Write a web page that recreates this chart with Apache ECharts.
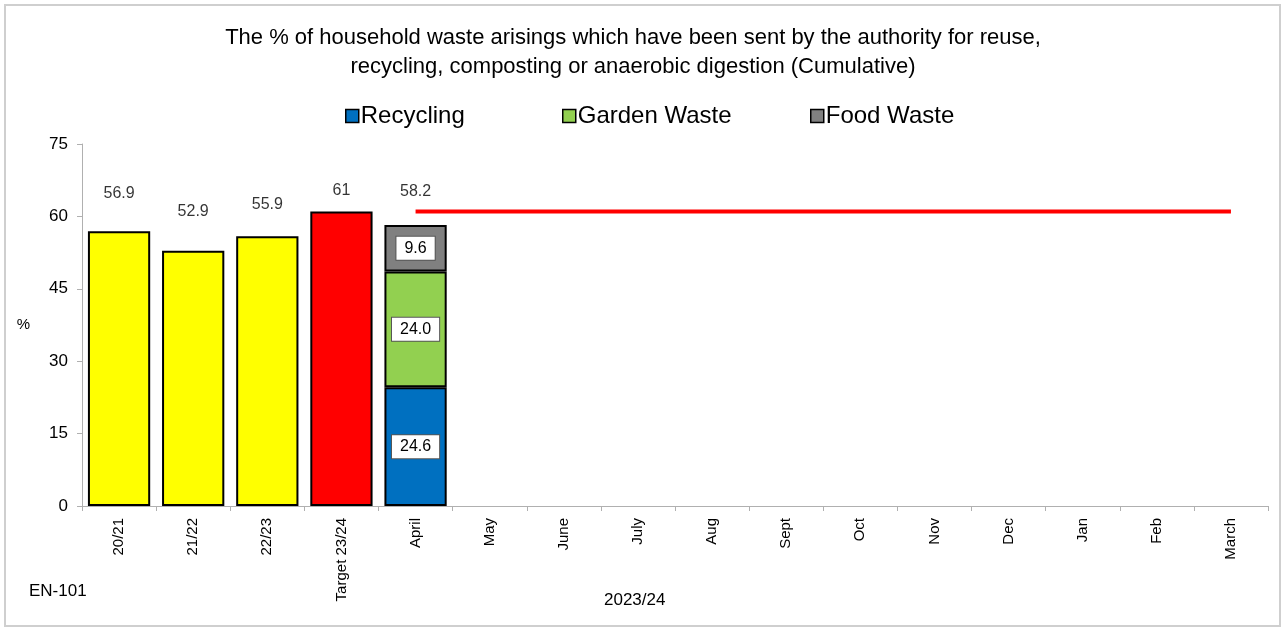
<!DOCTYPE html>
<html>
<head>
<meta charset="utf-8">
<script src="https://cdn.jsdelivr.net/npm/echarts@6/dist/echarts.min.js"></script>
<style>
  html, body { margin: 0; padding: 0; background: #fff; }
  #chart { width: 1282px; height: 628px; }
</style>
</head>
<body>
<div id="chart"></div>
<script>
// ---- data ----
const categories = ['20/21', '21/22', '22/23', 'Target 23/24', 'April', 'May', 'June', 'July', 'Aug', 'Sept', 'Oct', 'Nov', 'Dec', 'Jan', 'Feb', 'March'];
const annualValues = [56.9, 52.9, 55.9, null, null, null, null, null, null, null, null, null, null, null, null, null];
const targetBarValues = [null, null, null, 61, null, null, null, null, null, null, null, null, null, null, null, null];
const recyclingValues = [null, null, null, null, 24.6, null, null, null, null, null, null, null, null, null, null, null];
const gardenValues = [null, null, null, null, 24.0, null, null, null, null, null, null, null, null, null, null, null];
const foodValues = [null, null, null, null, 9.6, null, null, null, null, null, null, null, null, null, null, null];
const totalValues = [56.9, 52.9, 55.9, 61, 58.2, null, null, null, null, null, null, null, null, null, null, null];
const targetLineValues = [null, null, null, null, 61, 61, 61, 61, 61, 61, 61, 61, 61, 61, 61, 61];
const yTicks = { min: 0, max: 75, interval: 15 };
const titleLine1 = 'The % of household waste arisings which have been sent by the authority for reuse,';
const titleLine2 = 'recycling, composting or anaerobic digestion (Cumulative)';

// ---- chart ----
const FONT = "'Liberation Sans', Arial, sans-serif";
const chart = echarts.init(document.getElementById('chart'), null, { renderer: 'canvas' });

const totalLabelDistances = [30, 31, 24, 13, 25];

const boxLabel = {
  show: true,
  position: 'inside',
  fontFamily: FONT,
  fontSize: 16,
  color: '#000',
  backgroundColor: '#fff',
  borderColor: '#555',
  borderWidth: 1,
  padding: [4, 8, 3, 8],
  formatter: p => (p.value == null ? '' : Number(p.value).toFixed(1))
};

const barBase = {
  type: 'bar',
  stack: 'total',
  barCategoryGap: '16%',
  itemStyle: { borderColor: '#000', borderWidth: 2 }
};

const option = {
  backgroundColor: '#fff',
  animation: false,
  textStyle: { fontFamily: FONT },
  title: [
    { text: titleLine1, left: 628, top: 22, textAlign: 'center',
      textStyle: { fontFamily: FONT, fontSize: 22, fontWeight: 'normal', color: '#000' } },
    { text: titleLine2, left: 628, top: 51, textAlign: 'center',
      textStyle: { fontFamily: FONT, fontSize: 22, fontWeight: 'normal', color: '#000' } }
  ],
  legend: [
    { data: ['Recycling'], left: 340, top: 99 },
    { data: ['Garden Waste'], left: 557, top: 99 },
    { data: ['Food Waste'], left: 805, top: 99 }
  ].map(l => Object.assign(l, {
    icon: 'rect', itemWidth: 13, itemHeight: 13, itemGap: 0,
    itemStyle: { borderColor: '#000', borderWidth: 1.5 },
    textStyle: { fontFamily: FONT, fontSize: 24, color: '#000', padding: [0, 0, 0, -3] }
  })),
  grid: { left: 82, right: 14, top: 144, bottom: 122, containLabel: false },
  xAxis: {
    type: 'category',
    data: categories,
    axisLine: { show: true, lineStyle: { color: '#b0b0b0', width: 1 } },
    axisTick: { show: true, interval: 0, length: 5, lineStyle: { color: '#b0b0b0' } },
    axisLabel: { interval: 0, rotate: 90, fontFamily: FONT, fontSize: 15, color: '#000', margin: 12 }
  },
  yAxis: {
    type: 'value',
    min: yTicks.min, max: yTicks.max, interval: yTicks.interval,
    name: '%', nameLocation: 'middle', nameRotate: 0, nameGap: 52,
    nameTextStyle: { fontFamily: FONT, fontSize: 15, color: '#000' },
    splitLine: { show: false },
    axisLine: { show: true, lineStyle: { color: '#b0b0b0', width: 1 } },
    axisTick: { show: true, length: 5, lineStyle: { color: '#b0b0b0' } },
    axisLabel: { fontFamily: FONT, fontSize: 17, color: '#000', margin: 14 }
  },
  series: [
    Object.assign({}, barBase, { name: 'Annual', data: annualValues,
      itemStyle: { color: '#FFFF00', borderColor: '#000', borderWidth: 2 } }),
    Object.assign({}, barBase, { name: 'Target', data: targetBarValues,
      itemStyle: { color: '#FF0000', borderColor: '#000', borderWidth: 2 } }),
    Object.assign({}, barBase, { name: 'Recycling', data: recyclingValues,
      itemStyle: { color: '#0070C0', borderColor: '#000', borderWidth: 2 }, label: boxLabel }),
    Object.assign({}, barBase, { name: 'Garden Waste', data: gardenValues,
      itemStyle: { color: '#92D050', borderColor: '#000', borderWidth: 2 }, label: boxLabel }),
    Object.assign({}, barBase, { name: 'Food Waste', data: foodValues,
      itemStyle: { color: '#808080', borderColor: '#000', borderWidth: 2 }, label: boxLabel }),
    {
      name: 'Total', type: 'scatter', symbolSize: 0, z: 5,
      data: totalValues.map((v, i) => ({
        value: v,
        label: { distance: totalLabelDistances[i] != null ? totalLabelDistances[i] : 20 }
      })),
      label: { show: true, position: 'top', fontFamily: FONT, fontSize: 16, color: '#000',
        formatter: p => (p.value == null ? '' : String(p.value)) }
    },
    {
      name: 'Target line', type: 'line', data: targetLineValues, symbol: 'none',
      lineStyle: { color: '#FF0000', width: 4 }, z: 6
    }
  ],
  graphic: [
    { type: 'rect', shape: { x: 5, y: 5, width: 1275, height: 621 },
      style: { fill: 'none', stroke: '#cfcfcf', lineWidth: 2 }, silent: true },
    { type: 'text', left: 29, top: 583,
      style: { text: 'EN-101', fontFamily: FONT, fontSize: 17, fill: '#000' } },
    { type: 'text', left: 604, top: 592,
      style: { text: '2023/24', fontFamily: FONT, fontSize: 17, fill: '#000' } }
  ]
};

chart.setOption(option);
</script>
</body>
</html>
